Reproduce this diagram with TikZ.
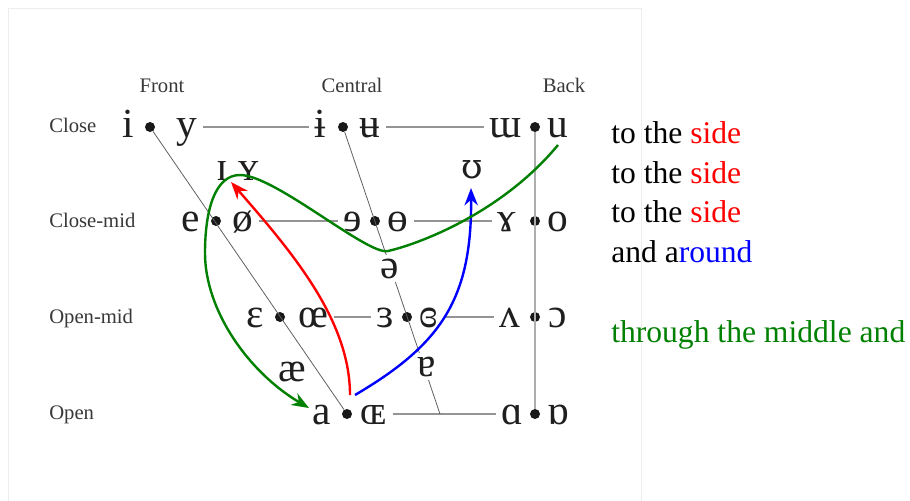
\documentclass[tikz,border=0pt]{standalone}
\usepackage{fontspec}
\setmainfont{Liberation Serif}
\newfontfamily\ipaalt{DejaVu Serif}
\usepackage{tikz}
\usetikzlibrary{arrows.meta, positioning}
\definecolor{htmlgreen}{RGB}{0,128,0}
\tikzset{
    vowel_sym/.style={
        font=\fontsize{31}{31}\selectfont, text=black!88,
        inner xsep=4pt, inner ysep=1pt, anchor=base
    },
    vowel_lone/.style={
        vowel_sym, fill=white, inner sep=3pt
    },
    vowel_dot/.style={
        circle, fill=black!90, inner sep=0pt, minimum size=7.5pt
    },
    row_lbl/.style={
        font=\fontsize{15.5}{15.5}\selectfont, text=black!78, anchor=base west, inner sep=0pt
    },
    col_lbl/.style={
        font=\fontsize{15.5}{15.5}\selectfont, text=black!78, anchor=base, inner sep=0pt
    },
    side_txt/.style={
        font=\fontsize{23.7}{23.7}\selectfont, anchor=base west, inner sep=0pt
    },
    row_line/.style={draw=black!42, line width=0.9pt},
    diag_line/.style={draw=black!62, line width=0.6pt},
    back_line/.style={draw=black!32, line width=0.9pt},
    move_arrow/.style={
        -{Stealth[length=13pt, width=10pt]}, line width=1.8pt
    },
    panel/.style={draw=black!7, line width=0.6pt, fill=white}
}

\begin{document}
\begin{tikzpicture}[x=0.75pt, y=-0.75pt, >=Stealth]
\useasboundingbox (0,0) rectangle (910,500);
\draw[panel] (8,8) rectangle (641,520);

% column and row heads
\node[col_lbl] (h_front) at (162,92) {Front};
\node[col_lbl] (h_central) at (352,92) {Central};
\node[col_lbl] (h_back) at (564,92) {Back};

\node[row_lbl] (r_close) at (49,132) {Close};
\node[row_lbl] (r_closemid) at (49,227) {Close-mid};
\node[row_lbl] (r_openmid) at (49,323) {Open-mid};
\node[row_lbl] (r_open) at (49,419) {Open};

% close
\node[vowel_sym] (v_i) at (128,137) {i};
\node[vowel_dot] (d_close_f) at (150,127) {};
\node[vowel_sym] (v_y) at (187,137) {y};
\node[vowel_sym] (v_ibar) at (320,137) {ɨ};
\node[vowel_dot] (d_close_c) at (343,127) {};
\node[vowel_sym] (v_ubar) at (370,137) {ʉ};
\node[vowel_sym] (v_turnm) at (506,137) {ɯ};
\node[vowel_dot] (d_close_b) at (535,127) {};
\node[vowel_sym] (v_u) at (558,137) {u};

% close-mid
\node[vowel_sym] (v_e) at (191,231) {e};
\node[vowel_dot] (d_cmid_f) at (216,221) {};
\node[vowel_sym] (v_oslash) at (243,231) {ø};
\node[vowel_sym] (v_rev_e) at (353,231) {ɘ};
\node[vowel_dot] (d_cmid_c) at (375,221) {};
\node[vowel_sym] (v_barred_o) at (398,231) {ɵ};
\node[vowel_sym] (v_gamma) at (507,231) {ɤ};
\node[vowel_dot] (d_cmid_b) at (535,221) {};
\node[vowel_sym] (v_o) at (558,231) {o};

% open-mid
\node[vowel_sym] (v_eps) at (255,327) {ɛ};
\node[vowel_dot] (d_omid_f) at (280,317) {};
\node[vowel_sym] (v_oe) at (313,327) {œ};
\node[vowel_sym] (v_rev_eps) at (385,327) {ɜ};
\node[vowel_dot] (d_omid_c) at (407,317) {};
\node[vowel_sym] (v_closed_eps) at (429,327) {ɞ};
\node[vowel_sym] (v_wedge) at (510,327) {ʌ};
\node[vowel_dot] (d_omid_b) at (535,317) {};
\node[vowel_sym] (v_open_o) at (558,327) {ɔ};

% open
\node[vowel_sym] (v_a) at (322,424) {a};
\node[vowel_dot] (d_open_f) at (347,414) {};
\node[vowel_sym] (v_cap_oe) at (374,424) {ɶ};
\node[vowel_sym] (v_alpha) at (512,424) {ɑ};
\node[vowel_dot] (d_open_b) at (535,414) {};
\node[vowel_sym] (v_turn_alpha) at (558,424) {ɒ};
\coordinate (c_open) at (440,414);

% chart lines
\draw[row_line] (v_y.east |- d_close_f) -- (v_ibar.west |- d_close_f);
\draw[row_line] (v_ubar.east |- d_close_f) -- (v_turnm.west |- d_close_f);
\draw[row_line] (v_oslash.east |- d_cmid_f) -- (v_rev_e.west |- d_cmid_f);
\draw[row_line] (v_barred_o.east |- d_cmid_f) -- (v_gamma.west |- d_cmid_f);
\draw[row_line] (v_oe.east |- d_omid_f) -- (v_rev_eps.west |- d_omid_f);
\draw[row_line] (v_closed_eps.east |- d_omid_f) -- (v_wedge.west |- d_omid_f);
\draw[row_line] (v_cap_oe.east |- d_open_f) -- (v_alpha.west |- d_open_f);
\draw[diag_line] (d_close_f) -- (d_open_f);
\draw[diag_line] (d_close_c) -- (c_open);
\draw[back_line] (d_close_b) -- (d_open_b);

% vowels off the grid
\node[vowel_lone] (v_small_i) at (222,180) {ɪ};
\node[vowel_lone] (v_small_y) at (249,180) {ʏ};
\node[vowel_lone, font=\ipaalt\fontsize{26}{26}\selectfont] (v_upsilon) at (472,178) {ʊ};
\node[vowel_lone] (v_schwa) at (390,278) {ə};
\node[vowel_sym] (v_ash) at (292,381) {æ};
\node[vowel_lone] (v_turn_a) at (427,376) {ɐ};

% movements
\coordinate (red_start) at (350,395);
\coordinate (red_end) at (231,182);
\coordinate (blue_start) at (355,395);
\coordinate (blue_end) at (471,188);
\coordinate (g_start) at (558,145);
\coordinate (g_low) at (388,251);
\coordinate (g_top) at (240,175);
\coordinate (g_left) at (205,253);
\coordinate (g_end) at (309,408);

\draw[move_arrow, red] (red_start) .. controls (350,320) and (292,252) .. (red_end);
\draw[move_arrow, blue] (blue_start) .. controls (440,345) and (472,300) .. (blue_end);
\draw[move_arrow, htmlgreen] (g_start) .. controls (500,215) and (415,245) .. (g_low)
    .. controls (368,256) and (275,175) .. (g_top)
    .. controls (215,175) and (205,210) .. (g_left)
    .. controls (205,310) and (248,372) .. (g_end);

% text on the right
\node[side_txt] (s_side1) at (611,143) {to the \textcolor{red}{side}};
\node[side_txt] (s_side2) at (611,183) {to the \textcolor{red}{side}};
\node[side_txt] (s_side3) at (611,222) {to the \textcolor{red}{side}};
\node[side_txt] (s_round) at (611,262) {and a\textcolor{blue}{round}};
\node[side_txt, text=htmlgreen] (s_middle) at (611,342) {through the middle and};
\end{tikzpicture}
\end{document}
